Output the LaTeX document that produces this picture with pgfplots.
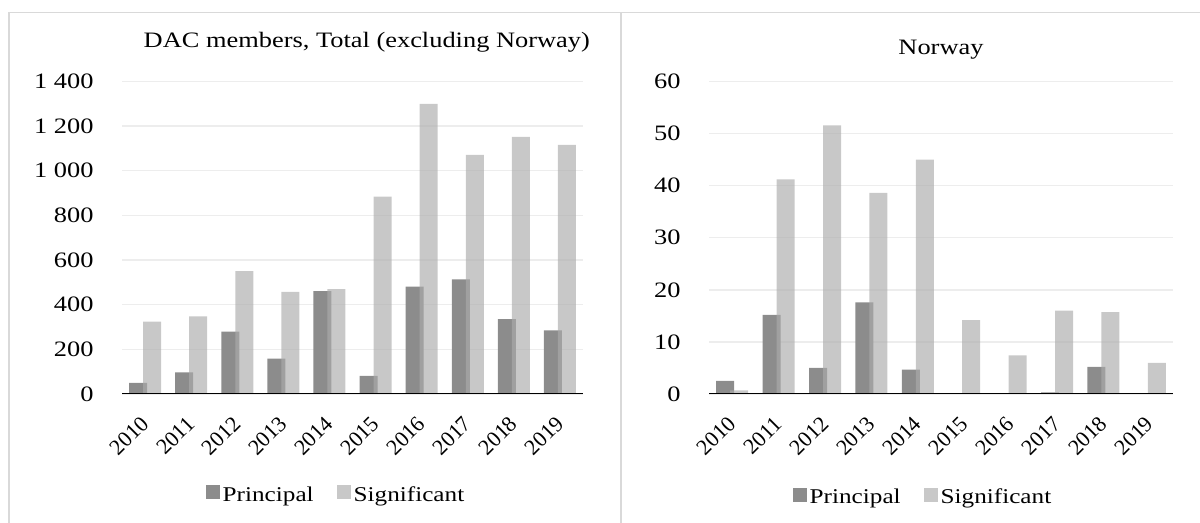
\documentclass[border=0pt]{standalone}
\usepackage{fontspec}
\setmainfont{Liberation Serif}[FakeStretch=1.2]
\newfontfamily\plainserif{Liberation Serif}
\usepackage{pgfplots}
\usepackage{pgfplotstable}
\pgfplotsset{compat=1.18}

\definecolor{principal}{HTML}{8C8C8C}
\definecolor{significant}{HTML}{ABABAB}
\definecolor{panelframe}{HTML}{D9D9D9}
\definecolor{gridc}{HTML}{EDEDED}
\definecolor{baseline}{HTML}{BFBFBF}

% DAC members, total excluding Norway
\pgfplotstableread{
idx P S
0 50 324
1 97 348
2 279 551
3 158 458
4 461 470
5 81 884
6 481 1300
7 514 1071
8 335 1152
9 285 1116
}\dactable

% Norway
\pgfplotstableread{
idx P S
0 2.5 0.7
1 15.2 41.2
2 5.0 51.6
3 17.6 38.6
4 4.7 45.0
5 0 14.2
6 0 7.4
7 0.3 16.0
8 5.2 15.7
9 0 6.0
}\nortable

\newcommand\tickfont{\fontsize{11bp}{13bp}\selectfont}
\newcommand\yearfont{\plainserif\fontsize{11bp}{13bp}\selectfont}
\newcommand\titlefont{\fontsize{11bp}{13bp}\selectfont}
\newcommand\legfont{\fontsize{10.5bp}{12bp}\selectfont}

\pgfplotsset{
  panel/.style={
    scale only axis,
    height=156.25bp,
    ybar, bar width=9bp,
    xmin=-0.5, xmax=9.5, ymin=0,
    enlargelimits=false,
    xtick={0,...,9},
    xticklabels={2010,2011,2012,2013,2014,2015,2016,2017,2018,2019},
    major tick length=0pt,
    axis line style={draw=none},
    ymajorgrids, grid style={gridc, line width=0.7bp},
    yticklabel style={font=\tickfont, anchor=east, inner sep=0pt},
    xticklabel style={font=\yearfont, rotate=45, anchor=east, inner sep=0pt},
    xticklabel shift=13bp,
    yticklabel shift=14bp,
    /pgf/number format/1000 sep={\ },
    /pgf/number format/assume math mode=true,
    every axis title/.style={font=\titlefont, anchor=base, inner sep=0pt},
    legend columns=2,
    legend style={draw=none, fill=none, font=\legfont,
      nodes={inner sep=0pt},
      /tikz/every odd column/.append style={column sep=1.5bp},
      /tikz/every even column/.append style={column sep=11.5bp}},
    legend image code/.code={\fill[##1] (0bp,-2bp) rectangle (7bp,5bp);},
  },
  pstyle/.style={fill=principal, draw=none, bar shift=-3.5bp},
  sstyle/.style={fill=significant, fill opacity=0.65, draw=none, bar shift=3.5bp},
}

\begin{document}
\begin{tikzpicture}
\useasboundingbox (0,0) rectangle (600bp,261.5bp);

% panel frames
\draw[panelframe, line width=0.8bp] (4.5bp,0) -- (4.5bp,255.25bp) -- (600bp,255.25bp);
\draw[panelframe, line width=0.8bp] (310.5bp,0) -- (310.5bp,255.25bp);

\begin{axis}[panel,
  at={(61bp,64.5bp)}, anchor=south west, width=230.5bp,
  ymax=1400, ytick={0,200,...,1400},
  title={DAC members, Total (excluding Norway)},
  title style={at={(0.531,1.110)}},
  legend style={at={(0.462,-0.323)}, anchor=center},
]
\addplot[pstyle] table[x=idx, y=P] {\dactable};
\addplot[sstyle] table[x=idx, y=S] {\dactable};
\legend{Principal, Significant}
\draw[baseline, line width=1.5bp] (rel axis cs:0,0) -- (rel axis cs:1,0);
\end{axis}

\begin{axis}[panel,
  at={(354.5bp,64.5bp)}, anchor=south west, width=232bp,
  ymax=60, ytick={0,10,...,60},
  title={Norway},
  title style={at={(0.5,1.085)}},
  legend style={at={(0.459,-0.33)}, anchor=center},
]
\addplot[pstyle] table[x=idx, y=P] {\nortable};
\addplot[sstyle] table[x=idx, y=S] {\nortable};
\legend{Principal, Significant}
\draw[baseline, line width=1.5bp] (rel axis cs:0,0) -- (rel axis cs:1,0);
\end{axis}
\end{tikzpicture}
\end{document}
